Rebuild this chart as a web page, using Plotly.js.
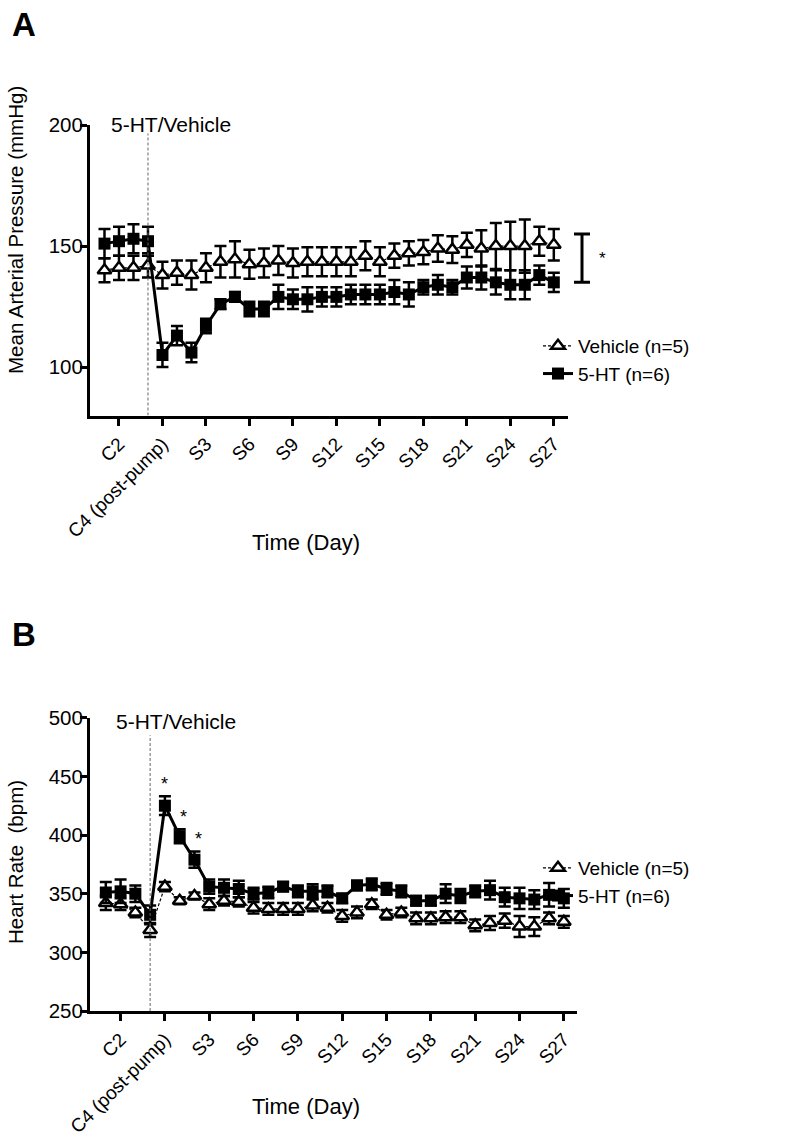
<!DOCTYPE html>
<html>
<head>
<meta charset="utf-8">
<script src="https://cdn.plot.ly/plotly-3.0.1.min.js"></script>
<style>
  html, body { margin: 0; padding: 0; background: #fff; }
  #chart { width: 800px; height: 1141px; }
</style>
</head>
<body>
<div id="chart"></div>
<script>
// ---------- Data ----------
const days = ['C1','C2','C3','C4','C4 (post-pump)',
  'S1','S2','S3','S4','S5','S6','S7','S8','S9','S10','S11','S12','S13','S14',
  'S15','S16','S17','S18','S19','S20','S21','S22','S23','S24','S25','S26','S27'];
const tickLabels = ['C2','C4 (post-pump)','S3','S6','S9','S12','S15','S18','S21','S24','S27'];

// Panel A: Mean arterial pressure (mmHg)
const mapVehicle = [140, 141, 141, 142, 138, 139, 138, 141, 143.5, 144.5, 142.5, 143, 144, 143, 143.5, 143.5,
  143.5, 143.5, 146, 143.5, 146, 147, 147.5, 149, 148.5, 150.5, 149, 150, 150, 150, 152, 150.5];
const mapVehicleSem = [5, 5, 5, 5, 5.5, 5, 6, 6, 6.5, 7.5, 6, 6, 6, 6, 6, 6,
  6, 6, 6, 6, 5, 5, 5, 5.5, 5.5, 5, 7.5, 9.5, 10, 11, 6, 6.5];
const map5HT = [151, 152, 153, 152, 105, 113, 106, 117, 126, 129, 124, 124, 129, 128, 128, 129,
  129, 130, 130, 130, 131, 130, 133, 134, 133, 137, 137, 135, 134, 134, 138, 135];
const map5HTSem = [6, 6, 6, 6, 5, 4, 4, 3, 2, 2, 3, 3, 5, 4, 5, 4,
  4, 4, 4, 4, 5, 5, 3, 4, 3, 4.5, 5, 5, 6, 6, 4, 4];
const mapBracket = [135, 155];

// Panel B: Heart rate (bpm)
const hrVehicle = [342, 341, 334, 319, 356, 344, 348, 341, 344, 343, 338, 337, 337, 337, 340, 338,
  331, 334, 341, 332, 334, 329, 329, 330, 330, 323, 325, 327, 322, 322, 329, 326];
const hrVehicleSem = [6, 5, 4, 6, 4, 3, 3, 5, 4, 4, 5, 5, 5, 5, 5, 4,
  5, 5, 4, 4, 4, 5, 5, 5, 5, 5, 6, 6, 9, 8, 5, 5];
const hr5HT = [351, 352, 350, 332, 425, 399, 379, 356, 355, 354, 350, 351, 356, 352, 352, 352,
  346, 357, 358, 354, 352, 344, 344, 350, 348, 352, 353, 347, 346, 345, 349, 346];
const hr5HTSem = [9, 10, 7, 8, 8, 6, 7, 6, 7, 7, 5, 5, 4, 5, 6, 5,
  4, 4, 5, 5, 5, 4, 4, 8, 6, 5, 8, 8, 9, 8, 10, 8];
const hrStarIdx = [4, 5, 6];

const infusionDay = 'C4';
const seriesNames = ['Vehicle (n=5)', '5-HT (n=6)'];

// ---------- Helpers ----------
const W = 800, H = 1141;
const px = v => v / W;
const py = v => 1 - v / H;
const FONT = 'Liberation Sans, Arial, Helvetica, sans-serif';
const xIdx = days.map((d, i) => i);
const tickVals = tickLabels.map(l => days.indexOf(l));
const infX = days.indexOf(infusionDay);

function vehicleTrace(y, sem, xa, ya, legend) {
  return {
    type: 'scatter', mode: 'lines+markers', name: seriesNames[0],
    x: xIdx, y: y, xaxis: xa, yaxis: ya, legend: legend,
    line: { color: '#000', width: 1.2, dash: '3px,2px' },
    marker: { symbol: 'triangle-up', size: 12, color: '#fff', line: { color: '#000', width: 2.5 } },
    error_y: { type: 'data', array: sem, visible: true, color: '#000', thickness: 2.5, width: 6 },
    cliponaxis: false
  };
}
function htTrace(y, sem, xa, ya, legend) {
  return {
    type: 'scatter', mode: 'lines+markers', name: seriesNames[1],
    x: xIdx, y: y, xaxis: xa, yaxis: ya, legend: legend,
    line: { color: '#000', width: 3 },
    marker: { symbol: 'square', size: 12, color: '#000' },
    error_y: { type: 'data', array: sem, visible: true, color: '#000', thickness: 2.5, width: 6 },
    cliponaxis: false
  };
}

const data = [
  vehicleTrace(mapVehicle, mapVehicleSem, 'x', 'y', 'legend'),
  htTrace(map5HT, map5HTSem, 'x', 'y', 'legend'),
  vehicleTrace(hrVehicle, hrVehicleSem, 'x2', 'y2', 'legend2'),
  htTrace(hr5HT, hr5HTSem, 'x2', 'y2', 'legend2')
];

const axisCommon = {
  showline: true, linewidth: 3, linecolor: '#000',
  ticks: 'outside', ticklen: 7, tickwidth: 3, tickcolor: '#000',
  showgrid: false, zeroline: false, fixedrange: true,
  tickfont: { family: FONT, size: 20.5, color: '#000' }
};

const xCommon = Object.assign({}, axisCommon, {
  tickmode: 'array', tickvals: tickVals, ticktext: tickLabels, tickangle: -45,
  tickfont: { family: FONT, size: 19, color: '#000' }
});
const yCommon = Object.assign({}, axisCommon, { ticklabelstandoff: -7 });

const annFont = (s, bold) => ({ family: FONT, size: s, color: '#000', weight: bold ? 'bold' : 'normal' });

const annotations = [
  { text: '<b>A</b>', xref: 'paper', yref: 'paper', x: px(10), y: py(4), xanchor: 'left', yanchor: 'top',
    showarrow: false, font: annFont(33, true) },
  { text: '<b>B</b>', xref: 'paper', yref: 'paper', x: px(10), y: py(614), xanchor: 'left', yanchor: 'top',
    showarrow: false, font: annFont(33, true) },
  { text: '5-HT/Vehicle', xref: 'paper', yref: 'paper', x: px(109), y: py(125), xanchor: 'left', yanchor: 'middle',
    showarrow: false, font: annFont(21) },
  { text: '5-HT/Vehicle', xref: 'paper', yref: 'paper', x: px(114), y: py(722), xanchor: 'left', yanchor: 'middle',
    showarrow: false, font: annFont(21) },
  { text: 'Mean Arterial Pressure (mmHg)', xref: 'paper', yref: 'paper', x: px(15), y: py(230),
    xanchor: 'center', yanchor: 'middle', textangle: -90, showarrow: false, font: annFont(20.5) },
  { text: 'Heart Rate  (bpm)', xref: 'paper', yref: 'paper', x: px(15), y: py(862),
    xanchor: 'center', yanchor: 'middle', textangle: -90, showarrow: false, font: annFont(20.5) },
  { text: 'Time (Day)', xref: 'paper', yref: 'paper', x: px(306), y: py(542),
    xanchor: 'center', yanchor: 'middle', showarrow: false, font: annFont(22) },
  { text: 'Time (Day)', xref: 'paper', yref: 'paper', x: px(306), y: py(1106),
    xanchor: 'center', yanchor: 'middle', showarrow: false, font: annFont(22) },
  { text: '*', xref: 'paper', yref: 'y', x: px(602), y: (mapBracket[0] + mapBracket[1]) / 2,
    xanchor: 'center', yanchor: 'middle', showarrow: false, font: annFont(17) }
];
hrStarIdx.forEach((i, k) => {
  annotations.push({ text: '*', xref: 'x2', yref: 'y2', x: i, y: hr5HT[i] + hr5HTSem[i],
    xanchor: 'center', yanchor: 'bottom', xshift: k === 0 ? 0 : 4, yshift: 0,
    showarrow: false, font: annFont(18) });
});

const shapes = [
  { type: 'line', xref: 'x', yref: 'y', x0: infX, x1: infX, y0: 80, y1: 196.5,
    line: { color: '#666', width: 1, dash: '3px,2px' } },
  { type: 'line', xref: 'x2', yref: 'y2', x0: infX, x1: infX, y0: 250, y1: 485,
    line: { color: '#666', width: 1, dash: '3px,2px' } },
  // significance bracket in panel A
  { type: 'line', xref: 'paper', yref: 'y', x0: px(582), x1: px(582), y0: mapBracket[0], y1: mapBracket[1],
    line: { color: '#000', width: 3 } },
  { type: 'line', xref: 'paper', yref: 'y', x0: px(574), x1: px(590), y0: mapBracket[0], y1: mapBracket[0],
    line: { color: '#000', width: 3 } },
  { type: 'line', xref: 'paper', yref: 'y', x0: px(574), x1: px(590), y0: mapBracket[1], y1: mapBracket[1],
    line: { color: '#000', width: 3 } }
];

const legendCommon = {
  xanchor: 'left', yanchor: 'top', bgcolor: 'rgba(0,0,0,0)', borderwidth: 0,
  font: { family: FONT, size: 19, color: '#000' }, traceorder: 'normal', itemwidth: 30
};

const layout = {
  width: W, height: H,
  margin: { l: 0, r: 0, t: 0, b: 0 },
  paper_bgcolor: '#fff', plot_bgcolor: 'rgba(0,0,0,0)',
  font: { family: FONT, color: '#000' },
  showlegend: true,
  legend: Object.assign({}, legendCommon, { x: px(538), y: py(327) }),
  legend2: Object.assign({}, legendCommon, { x: px(538), y: py(849) }),
  xaxis: Object.assign({}, xCommon, { domain: [px(90), px(568.3)], range: [-1, 32], anchor: 'y' }),
  yaxis: Object.assign({}, yCommon, { domain: [py(415.5), py(125)], range: [80, 200],
    tickmode: 'array', tickvals: [100, 150, 200], anchor: 'x' }),
  xaxis2: Object.assign({}, xCommon, { domain: [px(90), px(576.7)], range: [-1.07, 31.87], anchor: 'y2' }),
  yaxis2: Object.assign({}, yCommon, { domain: [py(1011), py(717.7)], range: [250, 500],
    tickmode: 'array', tickvals: [250, 300, 350, 400, 450, 500], anchor: 'x2' }),
  annotations: annotations,
  shapes: shapes
};

Plotly.newPlot('chart', data, layout, { staticPlot: true, displayModeBar: false });
</script>
</body>
</html>
